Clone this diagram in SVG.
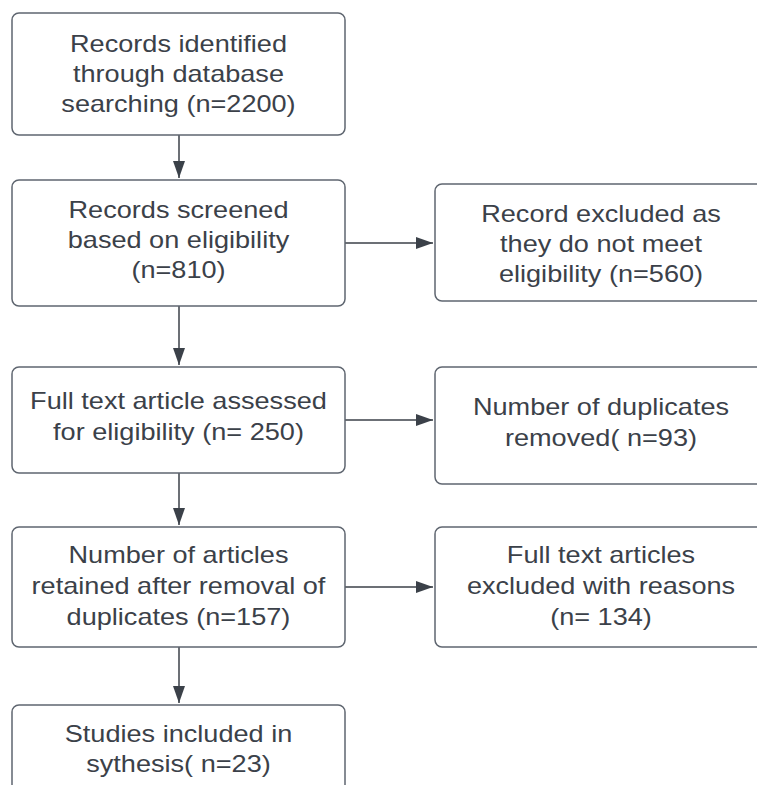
<svg xmlns="http://www.w3.org/2000/svg" width="757" height="785" viewBox="0 0 757 785">
<style>
  .box { fill: #ffffff; stroke: #5f6670; stroke-width: 1.5; }
  .lbl { font-family: "Liberation Sans", Arial, sans-serif; font-size: 24px; fill: #3b4149; text-anchor: middle; }
  .edge { stroke: #3b4149; stroke-width: 1.5; fill: none; }
</style>
<defs>
  <marker id="arr" markerUnits="userSpaceOnUse" markerWidth="18" markerHeight="14" refX="17" refY="6" orient="auto">
    <path d="M0,0 L17,6 L0,12 Z" fill="#3b4149"/>
  </marker>
</defs>
<rect width="757" height="785" fill="#ffffff"/>

<g id="connectors">
  <line class="edge" x1="179" y1="135" x2="179" y2="178" marker-end="url(#arr)"/>
  <line class="edge" x1="179" y1="306" x2="179" y2="365" marker-end="url(#arr)"/>
  <line class="edge" x1="179" y1="473" x2="179" y2="525" marker-end="url(#arr)"/>
  <line class="edge" x1="179" y1="647" x2="179" y2="703" marker-end="url(#arr)"/>
  <line class="edge" x1="345" y1="243" x2="433" y2="243" marker-end="url(#arr)"/>
  <line class="edge" x1="345" y1="420" x2="433" y2="420" marker-end="url(#arr)"/>
  <line class="edge" x1="345" y1="587" x2="433" y2="587" marker-end="url(#arr)"/>
</g>

<g id="n1">
  <rect class="box" x="12" y="13" width="333" height="122" rx="7"/>
  <g transform="translate(178.5 0) scale(1.13 1) translate(-178.5 0)">
    <text class="lbl" x="178.5" y="52">Records identified</text>
    <text class="lbl" x="178.5" y="82">through database</text>
    <text class="lbl" x="178.5" y="112">searching (n=2200)</text>
  </g>
</g>

<g id="n2">
  <rect class="box" x="12" y="180" width="333" height="126" rx="7"/>
  <g transform="translate(178.5 0) scale(1.13 1) translate(-178.5 0)">
    <text class="lbl" x="178.5" y="218">Records screened</text>
    <text class="lbl" x="178.5" y="248">based on eligibility</text>
    <text class="lbl" x="178.5" y="278">(n=810)</text>
  </g>
</g>

<g id="n3">
  <rect class="box" x="12" y="367" width="333" height="106" rx="7"/>
  <g transform="translate(178.5 0) scale(1.13 1) translate(-178.5 0)">
    <text class="lbl" x="178.5" y="409">Full text article assessed</text>
    <text class="lbl" x="178.5" y="440">for eligibility (n= 250)</text>
  </g>
</g>

<g id="n4">
  <rect class="box" x="12" y="527" width="333" height="120" rx="7"/>
  <g transform="translate(178.5 0) scale(1.13 1) translate(-178.5 0)">
    <text class="lbl" x="178.5" y="563">Number of articles</text>
    <text class="lbl" x="178.5" y="594">retained after removal of</text>
    <text class="lbl" x="178.5" y="625">duplicates (n=157)</text>
  </g>
</g>

<g id="n5">
  <rect class="box" x="12" y="705" width="333" height="125" rx="7"/>
  <g transform="translate(178.5 0) scale(1.13 1) translate(-178.5 0)">
    <text class="lbl" x="178.5" y="742">Studies included in</text>
    <text class="lbl" x="178.5" y="772">sythesis( n=23)</text>
  </g>
</g>

<g id="r1">
  <rect class="box" x="435" y="184" width="333" height="117" rx="7"/>
  <g transform="translate(601 0) scale(1.13 1) translate(-601 0)">
    <text class="lbl" x="601" y="222">Record excluded as</text>
    <text class="lbl" x="601" y="252">they do not meet</text>
    <text class="lbl" x="601" y="282">eligibility (n=560)</text>
  </g>
</g>

<g id="r2">
  <rect class="box" x="435" y="367" width="333" height="117" rx="7"/>
  <g transform="translate(601 0) scale(1.13 1) translate(-601 0)">
    <text class="lbl" x="601" y="415">Number of duplicates</text>
    <text class="lbl" x="601" y="446">removed( n=93)</text>
  </g>
</g>

<g id="r3">
  <rect class="box" x="435" y="527" width="333" height="120" rx="7"/>
  <g transform="translate(601 0) scale(1.13 1) translate(-601 0)">
    <text class="lbl" x="601" y="563">Full text articles</text>
    <text class="lbl" x="601" y="594">excluded with reasons</text>
    <text class="lbl" x="601" y="625">(n= 134)</text>
  </g>
</g>
</svg>
